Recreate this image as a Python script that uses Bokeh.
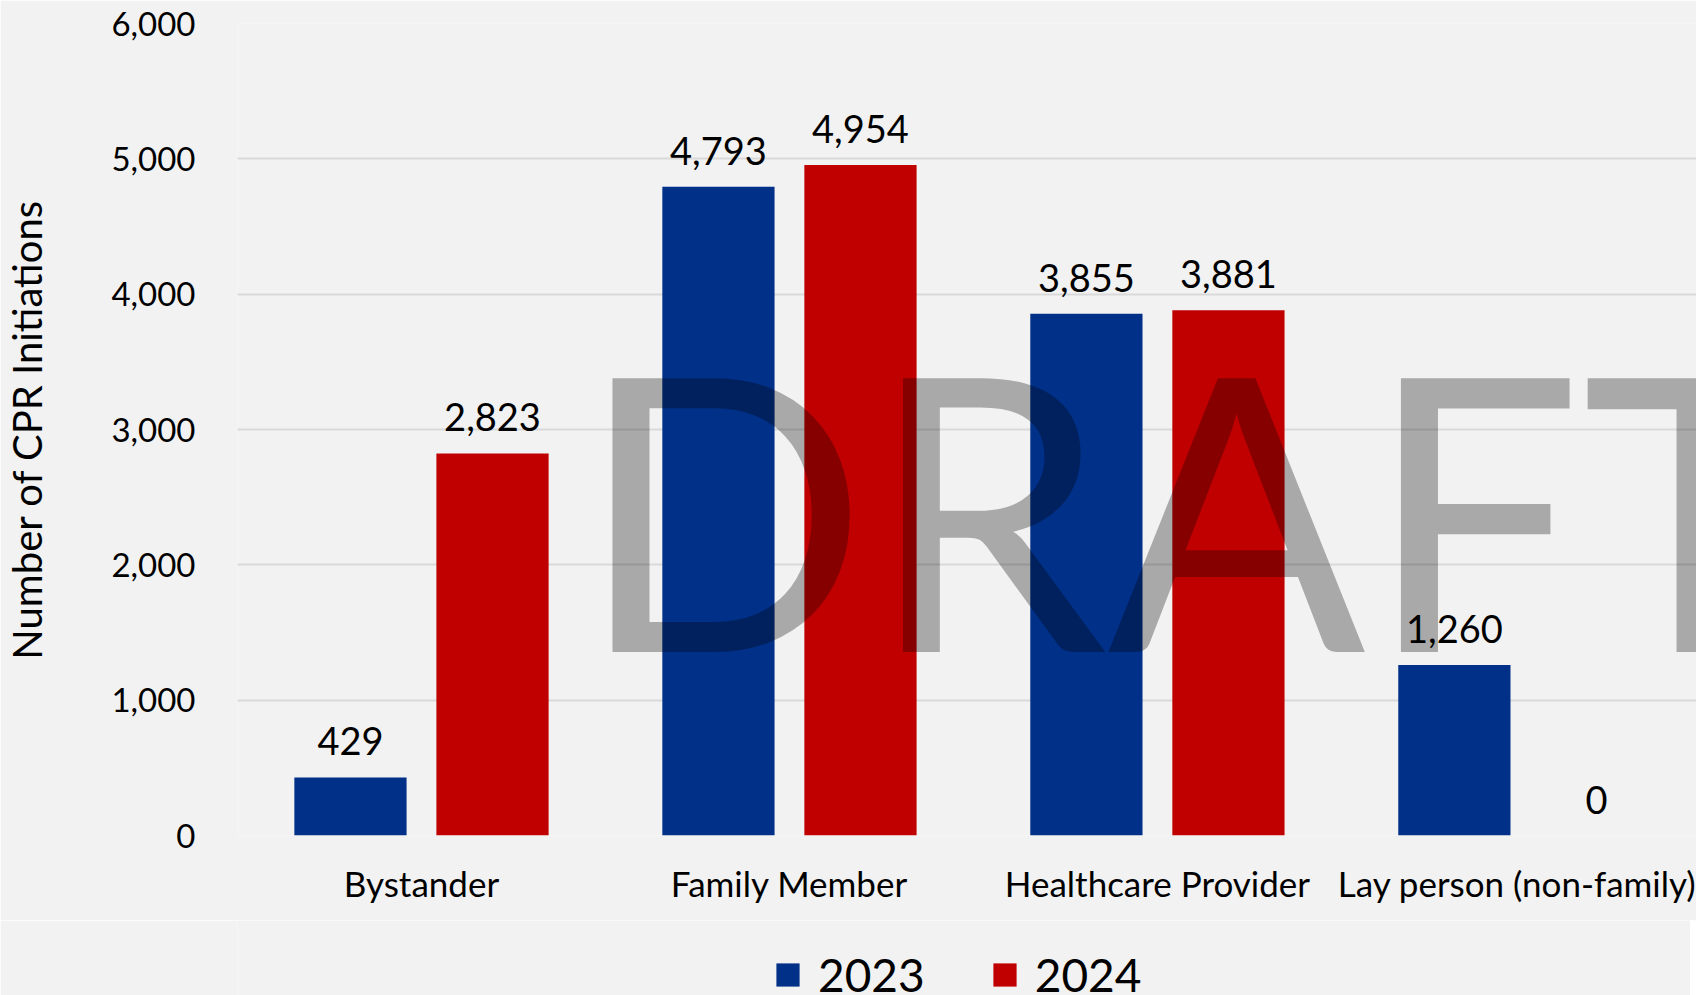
from bokeh.plotting import figure
from bokeh.layouts import column
from bokeh.models import (Range1d, FixedTicker, NumeralTickFormatter, Legend, LegendItem,
                          ColumnDataSource, Label)
from bokeh.transform import dodge
from bokeh.core.properties import value
from bokeh.embed import file_html
from bokeh.resources import INLINE

categories = ["Bystander", "Family Member", "Healthcare Provider", "Lay person (non-family)"]
years = ["2023", "2024"]
values_2023 = [429, 4793, 3855, 1260]
values_2024 = [2823, 4954, 3881, 0]
y_ticks = [0, 1000, 2000, 3000, 4000, 5000, 6000]

BLUE = "#003087"
RED = "#C00000"
BG = "#F2F2F2"
FONT = "Lato"

pos = [i + 0.5 for i in range(len(categories))]
src = ColumnDataSource(dict(
    x=pos, v23=values_2023, v24=values_2024,
    l23=[f"{v:,}" for v in values_2023], l24=[f"{v:,}" for v in values_2024],
))

p = figure(frame_width=1459, frame_height=812, output_backend="svg", toolbar_location=None,
           x_range=Range1d(0, 3.965), y_range=Range1d(0, 6000),
           min_border_left=231, min_border_right=0, min_border_top=23, min_border_bottom=85)
p.background_fill_color = BG
p.border_fill_color = BG
p.outline_line_color = None

r23 = p.vbar(x=dodge("x", -0.193), top="v23", width=0.305, source=src,
             fill_color=BLUE, line_color=None)
r24 = p.vbar(x=dodge("x", 0.193), top="v24", width=0.305, source=src,
             fill_color=RED, line_color=None)

for col, lab, off in (("v23", "l23", -0.193), ("v24", "l24", 0.193)):
    p.text(x=dodge("x", off), y=col, text=lab, source=src, text_align="center",
           text_baseline="alphabetic", y_offset=-36, text_font=value(FONT),
           text_font_size="38px", text_color="black")

# axes
p.xgrid.grid_line_color = None
p.ygrid.grid_line_color = "#D9D9D9"
p.ygrid.grid_line_width = 2
p.yaxis.ticker = FixedTicker(ticks=y_ticks)
p.yaxis.formatter = NumeralTickFormatter(format="0,0")
p.xaxis.ticker = FixedTicker(ticks=pos)
p.xaxis.major_label_overrides = {x: c for x, c in zip(pos, categories)}
for ax in (p.xaxis[0], p.yaxis[0]):
    ax.axis_line_color = None
    ax.major_tick_line_color = None
    ax.minor_tick_line_color = None
    ax.major_label_text_font = FONT
    ax.major_label_text_color = "black"
p.yaxis.major_label_text_font_size = "33px"
p.xaxis.major_label_text_font_size = "35px"
p.yaxis.major_label_standoff = 36
p.xaxis.major_label_standoff = 20
p.yaxis.axis_label = "Number of CPR Initiations"
p.yaxis.axis_label_text_font = FONT
p.yaxis.axis_label_text_font_size = "40px"
p.yaxis.axis_label_text_font_style = "normal"
p.yaxis.axis_label_text_color = "black"
p.yaxis.axis_label_standoff = 57

# watermark
p.add_layout(Label(x=0.924, y=2450, text="DRAFT", text_font=FONT, text_font_size="382px",
                   text_color="black", text_alpha=0.3, text_baseline="middle",
                   text_align="left"))

# legend strip below the chart (same series; its y-range keeps the bars out of view)
q = figure(frame_width=1459, frame_height=90, output_backend="svg", toolbar_location=None,
           x_range=Range1d(0, 3.965), y_range=Range1d(100000, 200000),
           min_border_left=231, min_border_right=0, min_border_top=0, min_border_bottom=0)
q.background_fill_color = BG
q.border_fill_color = BG
q.outline_line_color = None
q.axis.visible = False
q.grid.visible = False
g23 = q.vbar(x=dodge("x", -0.193), top="v23", width=0.305, source=src,
             fill_color=BLUE, line_color=None)
g24 = q.vbar(x=dodge("x", 0.193), top="v24", width=0.305, source=src,
             fill_color=RED, line_color=None)

legend = Legend(items=[LegendItem(label=years[0], renderers=[g23]),
                       LegendItem(label=years[1], renderers=[g24])],
                orientation="horizontal", location=(696, 8),
                background_fill_alpha=0, border_line_color=None,
                label_text_font=FONT, label_text_font_size="46px", label_text_color="black",
                glyph_width=29, glyph_height=29, label_height=55, label_standoff=16,
                spacing=65, padding=0, margin=0)
q.add_layout(legend, "center")

layout = column(p, q, spacing=0)
open("out.html", "w").write(file_html(layout, INLINE))
